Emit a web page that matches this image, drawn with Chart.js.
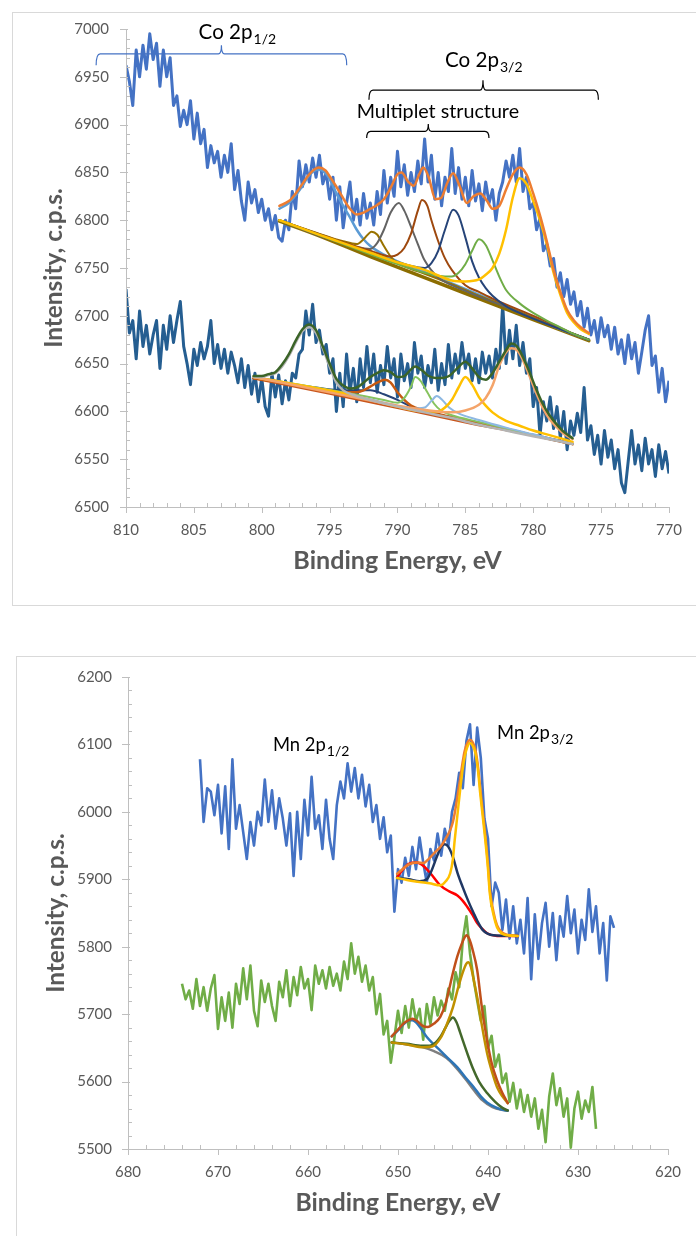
<!DOCTYPE html>
<html>
<head>
<meta charset="utf-8">
<script src="https://cdn.jsdelivr.net/npm/chart.js@4.4.0/dist/chart.umd.min.js"></script>
<style>
  body { margin: 0; background: #fff; width: 696px; height: 1236px; overflow: hidden; position: relative; }
  .panel { position: absolute; border: 1px solid #d9d9d9; box-sizing: border-box; }
  canvas { position: absolute; left: 0; }
</style>
</head>
<body>
<div class="panel" style="left:12px;top:12px;width:700px;height:594px"></div>
<div class="panel" style="left:16px;top:656px;width:700px;height:600px"></div>
<canvas id="co" width="696" height="620" style="top:0"></canvas>
<canvas id="mn" width="696" height="596" style="top:640px"></canvas>
<script>
// ---------- Co 2p : espectros medidos (passo de 0.25 eV a partir de 810 eV) ----------
const coStart = 810, coStep = 0.25;
const coSpectrumA = [
  6962, 6945, 6920, 6978,  6950, 6983, 6958, 6995,  6968, 6985, 6940, 6978,
  6950, 6970, 6920, 6930,  6898, 6915, 6900, 6925,  6885, 6912, 6880, 6895,
  6855, 6878, 6860, 6872,  6845, 6868, 6850, 6880,  6832, 6852, 6820, 6800,
  6840, 6818, 6832, 6808,  6822, 6800, 6812, 6790,  6805, 6782, 6778, 6800,
  6790, 6830, 6812, 6862,  6835, 6858, 6840, 6865,  6845, 6868, 6838, 6850,
  6822, 6845, 6800, 6835,  6792, 6818, 6840, 6800,  6822, 6795, 6828, 6802,
  6818, 6795, 6830, 6806,  6852, 6818, 6845, 6825,  6872, 6835, 6858, 6826,
  6850, 6830, 6862, 6838,  6885, 6840, 6868, 6822,  6850, 6815, 6845, 6830,
  6875, 6828, 6855, 6822,  6845, 6815, 6852, 6820,  6838, 6810, 6840, 6818,
  6832, 6800, 6828, 6840,  6862, 6845, 6868, 6840,  6875, 6830, 6845, 6812,
  6818, 6790, 6802, 6768,  6775, 6752, 6760, 6730,  6745, 6720, 6738, 6712,
  6725, 6700, 6715, 6688,  6708, 6680, 6695, 6672,  6698, 6678, 6690, 6665,
  6688, 6660, 6675, 6650,  6680, 6655, 6672, 6640,  6662, 6685, 6700, 6648,
  6658, 6620, 6645, 6610,  6632
];
const coSpectrumB = [
  6728, 6682, 6695, 6655,  6705, 6668, 6690, 6660,  6680, 6695, 6645, 6690,
  6665, 6700, 6672, 6695,  6715, 6668, 6650, 6628,  6665, 6648, 6672, 6655,
  6668, 6695, 6650, 6670,  6645, 6665, 6640, 6662,  6648, 6630, 6655, 6625,
  6648, 6618, 6640, 6610,  6635, 6605, 6595, 6640,  6615, 6638, 6608, 6632,
  6612, 6640, 6635, 6660,  6665, 6705, 6680, 6712,  6672, 6685, 6660, 6670,
  6640, 6655, 6600, 6640,  6605, 6660, 6620, 6645,  6610, 6655, 6625, 6668,
  6630, 6660, 6620, 6648,  6628, 6668, 6635, 6655,  6615, 6660, 6632, 6650,
  6625, 6672, 6640, 6658,  6625, 6648, 6630, 6665,  6622, 6650, 6628, 6670,
  6635, 6660, 6640, 6672,  6645, 6660, 6632, 6655,  6630, 6662, 6640, 6658,
  6635, 6665, 6645, 6712,  6650, 6685, 6655, 6690,  6648, 6672, 6640, 6655,
  6605, 6625, 6575, 6610,  6590, 6615, 6582, 6605,  6572, 6600, 6560, 6590,
  6575, 6598, 6578, 6625,  6570, 6585, 6555, 6575,  6545, 6580, 6552, 6570,
  6540, 6560, 6525, 6515,  6548, 6580, 6545, 6565,  6538, 6572, 6545, 6560,
  6532, 6565, 6540, 6558,  6535
];

// Ajuste da amostra A: [energia, intensidade]
const coA_bg     = [[798.7,6799],[796,6785],[792,6762],[788,6740],[784,6718],[780,6696],[775.9,6674]];
const coA_env    = [[798.7,6815],[798,6820],[797.5,6828],[797,6838],[796.5,6848],[795.8,6855],[795.3,6852],[795,6846],[794.5,6835],[794,6823],[793.5,6812],[793,6806],[792.5,6808],[792,6812],[791.5,6816],[791,6822],[790.5,6834],[790,6848],[789.7,6850],[789.2,6840],[788.8,6836],[788.4,6848],[788.1,6855],[787.7,6845],[787.2,6822],[786.8,6823],[786.3,6840],[785.9,6849],[785.4,6835],[784.9,6818],[784.4,6825],[783.9,6828],[783.4,6820],[783,6812],[782.5,6815],[782,6832],[781.5,6848],[781,6855],[780.5,6848],[780,6828],[779.5,6805],[779,6778],[778.5,6748],[778,6725],[777.5,6706],[777,6695],[776.5,6688],[775.9,6682]];
const coA_p12    = [[798.7,6812],[798,6818],[797.5,6826],[797,6836],[796.5,6847],[795.8,6853],[795.3,6849],[795,6843],[794.5,6828],[794,6815],[793.5,6803],[793,6790],[792.5,6780],[792,6773],[791,6764],[790,6757],[788,6746],[786,6734],[784,6722],[782,6710],[780,6698],[778,6686],[775.9,6675]];
const coA_olive  = [[798.7,6800],[796,6787],[794,6778],[793,6775],[792.5,6780],[791.9,6788],[791.5,6785],[791,6773],[790.5,6762],[790,6755],[789,6749],[788,6744],[786,6733],[784,6721],[782,6710],[780,6698],[778,6686],[775.9,6675]];
const coA_gray   = [[798.7,6800],[795,6780],[793,6772],[792,6770],[791.5,6776],[791,6790],[790.5,6808],[789.9,6818],[789.5,6810],[789,6793],[788.5,6775],[788,6758],[787,6740],[786,6732],[785,6726],[784,6720],[782,6709],[780,6697],[778,6686],[775.9,6675]];
const coA_brown  = [[798.7,6800],[794,6777],[792,6768],[790.5,6762],[790,6764],[789.5,6771],[789,6786],[788.5,6810],[788.2,6821],[787.8,6815],[787.5,6800],[787,6778],[786.5,6760],[786,6748],[785,6732],[784,6725],[783,6718],[781,6706],[779,6694],[777,6681],[775.9,6675]];
const coA_navy   = [[798.7,6800],[794,6776],[791,6761],[789,6752],[788,6750],[787.5,6755],[787,6768],[786.5,6790],[785.9,6811],[785.5,6805],[785,6782],[784.5,6757],[784,6740],[783.5,6729],[783,6721],[782,6710],[781,6703],[780,6697],[778,6686],[775.9,6675]];
const coA_green  = [[798.7,6800],[794,6775],[790,6754],[788,6745],[787,6742],[786,6741],[785.5,6745],[785,6754],[784.5,6768],[784,6780],[783.5,6774],[783,6758],[782.5,6741],[782,6727],[781,6713],[780,6703],[779,6695],[778,6688],[777,6681],[775.9,6675]];
const coA_yellow = [[798.7,6800],[796,6786],[794,6776],[792,6766],[790,6756],[788,6748],[786,6737],[785,6736],[784,6738],[783.5,6743],[783,6750],[782.5,6765],[782,6790],[781.5,6824],[781,6844],[780.5,6838],[780,6820],[779.5,6800],[779,6775],[778.5,6745],[778,6722],[777.5,6703],[777,6693],[776.5,6686],[775.9,6681]];

// Ajuste da amostra B
const coB_bg     = [[800.6,6635],[795,6619],[790,6604],[785,6589],[780,6575],[777.1,6566]];
const coB_env    = [[800.6,6637],[800,6637],[799.5,6639],[799,6641],[798.5,6649],[798,6660],[797.5,6674],[797,6686],[796.5,6691],[796,6685],[795.5,6668],[795,6650],[794.5,6634],[794,6627],[793.5,6624],[793,6625],[792.5,6630],[792,6636],[791.5,6640],[791,6643],[790.5,6641],[790,6636],[789.5,6637],[789,6644],[788.7,6647],[788.2,6643],[787.7,6637],[787.2,6635],[786.7,6635],[786.2,6637],[785.6,6645],[785,6652],[784.5,6645],[784,6636],[783.5,6633],[783,6640],[782.5,6652],[782,6664],[781.6,6671],[781.2,6668],[780.8,6658],[780.3,6642],[779.8,6624],[779.3,6608],[778.8,6596],[778.3,6587],[777.7,6578],[777.1,6572]];
const coB_p12    = [[800.6,6636],[800,6636],[799.5,6638],[799,6640],[798.5,6647],[798,6658],[797.5,6672],[797,6684],[796.5,6688],[796,6682],[795.5,6666],[795,6647],[794.5,6630],[794,6622],[793,6616],[792,6612],[790,6605],[788,6599],[786,6593],[784,6586],[782,6580],[780,6574],[777.1,6566]];
const coB_navy   = [[800.6,6636],[796,6625],[794,6622],[793,6622],[792,6622],[791,6618],[790,6612],[789,6605],[788,6600],[786,6594],[784,6588],[782,6581],[780,6575],[777.1,6566]];
const coB_orange = [[800.6,6635],[796,6624],[794,6620],[793,6620],[792.5,6622],[792,6626],[791.5,6630],[790.9,6633],[790.5,6630],[790,6620],[789.5,6612],[789,6606],[788,6601],[786,6594],[784,6588],[782,6582],[780,6575],[777.1,6566]];
const coB_green  = [[800.6,6636],[794,6620],[791,6612],[790,6609],[789.5,6614],[789,6626],[788.7,6636],[788.3,6632],[787.8,6620],[787.3,6608],[786.8,6601],[786,6596],[784,6589],[782,6582],[780,6575],[777.1,6566]];
const coB_lblue  = [[800.6,6636],[794,6619],[790,6606],[789,6603],[788,6604],[787.5,6611],[787.1,6616],[786.7,6612],[786.2,6604],[785.5,6598],[784,6591],[782,6583],[780,6576],[777.1,6566]];
const coB_yellow = [[800.6,6636],[794,6619],[790,6605],[788,6600],[787,6600],[786.5,6604],[786,6612],[785.5,6625],[785,6636],[784.5,6628],[784,6615],[783.5,6606],[783,6599],[782,6590],[781,6585],[780,6580],[779,6576],[778,6572],[777.1,6568]];
const coB_salmon = [[800.6,6636],[794,6617],[790,6606],[787,6600],[786,6599],[785,6601],[784,6607],[783.5,6614],[783,6627],[782.5,6648],[782,6662],[781.6,6666],[781.2,6664],[780.8,6655],[780.3,6638],[779.8,6620],[779.3,6604],[778.8,6592],[778.3,6584],[777.7,6576],[777.1,6571]];

// ---------- Mn 2p : espectros medidos (passo de 0.4 eV) ----------
const mnBlueStart = 672, mnGreenStart = 674, mnStep = 0.4;
const mnSpectrumBlue = [
  6078, 5985, 6035, 6030, 5995,  6040, 5968, 6038, 5945, 6078,
  5975, 6010, 5970, 5930, 5985,  5950, 6000, 5980, 6048, 5985,
  6032, 5975, 6020, 5990, 5950,  5998, 5905, 6000, 5930, 6018,
  5965, 6052, 5975, 5995, 5945,  6018, 5960, 5930, 6010, 6045,
  6020, 6072, 6030, 6065, 6020,  6055, 6008, 6040, 5985, 6010,
  5960, 5992, 5940, 5965, 5852,  5915, 5895, 5932, 5905, 5948,
  5915, 5962, 5925, 5895, 5945,  5928, 5968, 5935, 5975, 5950,
  6000, 6020, 6058, 6035, 6105,  6130, 6040, 6125, 6080, 5990,
  5960, 5860, 5895, 5880, 5825,  5870, 5812, 5860, 5805, 5840,
  5790, 5872, 5752, 5848, 5782,  5835, 5865, 5800, 5850, 5780,
  5845, 5815, 5875, 5820, 5855,  5790, 5840, 5810, 5885, 5822,
  5860, 5790, 5835, 5750, 5845,  5828
];
const mnSpectrumGreen = [
  5745, 5722, 5735, 5708, 5752,  5712, 5740, 5705, 5738, 5758,
  5678, 5725, 5690, 5732, 5680,  5745, 5715, 5768, 5722, 5772,
  5705, 5682, 5750, 5718, 5745,  5712, 5690, 5748, 5725, 5765,
  5712, 5755, 5728, 5770, 5738,  5752, 5706, 5772, 5745, 5765,
  5738, 5770, 5742, 5760, 5735,  5778, 5752, 5805, 5760, 5785,
  5748, 5772, 5735, 5755, 5700,  5730, 5670, 5690, 5628, 5665,
  5705, 5672, 5712, 5680, 5722,  5690, 5708, 5662, 5715, 5685,
  5725, 5698, 5720, 5705, 5738,  5722, 5762, 5740, 5810, 5845,
  5790, 5752, 5720, 5690, 5712,  5650, 5668, 5622, 5640, 5598,
  5612, 5570, 5598, 5560, 5588,  5555, 5580, 5548, 5575, 5530,
  5558, 5510, 5578, 5612, 5565,  5590, 5548, 5575, 5502, 5560,
  5585, 5545, 5572, 5555, 5592,  5530
];

// Ajuste Mn (azul)
const mnB_yellow = [[650.1,5902],[649,5899],[647.6,5896],[646.5,5894],[645.3,5891],[644.7,5897],[644.2,5909],[643.9,5930],[643.7,5958],[643.4,5995],[643.1,6032],[642.8,6065],[642.6,6081],[642.3,6096],[642,6102],[641.7,6098],[641.4,6087],[641.1,6060],[640.9,6032],[640.6,5995],[640.3,5958],[640,5915],[639.8,5879],[639.4,5848],[639,5829],[638.5,5820],[637.9,5817],[636.7,5816]];
const mnB_env    = [[650.1,5908],[649.5,5915],[648.8,5922],[647.9,5925],[647.2,5924],[646.6,5930],[645.9,5940],[645.3,5948],[644.7,5960],[644.2,5973],[643.9,5985],[643.7,5998],[643.4,6022],[643.1,6048],[642.8,6075],[642.6,6090],[642.3,6102],[642,6107],[641.7,6103],[641.4,6092],[641.1,6066],[640.9,6040],[640.6,6002],[640.3,5965],[640,5922],[639.8,5885],[639.4,5852],[639,5832],[638.5,5822],[637.9,5818],[636.7,5816]];
const mnB_red    = [[650.1,5903],[649.5,5914],[648.8,5923],[647.9,5925],[647.2,5920],[646.4,5909],[645.3,5891],[644.3,5882],[643.4,5876],[642.8,5868],[642.3,5859],[641.7,5847],[641.2,5835],[640.6,5826],[640.1,5820],[639,5816],[636.7,5816]];
const mnB_navy   = [[650.1,5902],[648.8,5900],[647.6,5897],[646.8,5900],[646.3,5912],[645.7,5933],[645.2,5948],[644.8,5952],[644.4,5948],[643.9,5933],[643.4,5910],[642.8,5888],[642.2,5868],[641.6,5850],[641.1,5836],[640.6,5825],[640,5819],[639.4,5817],[636.7,5816]];

// Ajuste Mn (verde)
const mnG_bg     = [[650.7,5658],[649,5655],[647.2,5651],[646,5645],[644.6,5635],[643.5,5620],[642.4,5602],[641.5,5586],[640.6,5572],[639.5,5562],[638.5,5558],[637.8,5557]];
const mnG_blue   = [[650.7,5667],[650,5676],[649.3,5686],[648.7,5691],[648.4,5691],[648,5688],[647.4,5678],[646.8,5666],[646,5655],[645.3,5646],[644.4,5634],[643.4,5621],[642.5,5606],[641.6,5592],[640.8,5578],[640.1,5569],[639.2,5562],[638.4,5558],[637.8,5557]];
const mnG_dgreen = [[650.7,5658],[649,5656],[647.5,5653],[646.5,5653],[645.8,5658],[645.3,5666],[644.8,5678],[644.3,5690],[643.9,5695],[643.5,5688],[643.1,5673],[642.8,5661],[642.2,5638],[641.6,5617],[641,5600],[640.1,5583],[639.2,5570],[638.4,5561],[637.8,5557]];
const mnG_gold   = [[650.7,5658],[649,5655],[647.2,5651],[646.2,5652],[645.3,5664],[644.6,5684],[643.9,5710],[643.3,5740],[642.8,5762],[642.4,5775],[642.2,5777],[641.9,5770],[641.5,5745],[641.2,5725],[640.7,5685],[640.1,5642],[639.5,5612],[639,5592],[638.4,5578],[637.8,5568]];
const mnG_env    = [[650.7,5667],[650,5677],[649.3,5687],[648.7,5692],[648.4,5693],[647.9,5690],[647.3,5683],[646.7,5681],[646,5686],[645.3,5696],[644.7,5716],[644.3,5738],[643.9,5761],[643.4,5786],[642.9,5805],[642.6,5814],[642.4,5817],[642.1,5812],[641.7,5795],[641.2,5765],[640.7,5712],[640.1,5661],[639.6,5628],[639,5602],[638.4,5583],[637.8,5568]];

// ---------- funções auxiliares ----------
const FONT = 'Lato';
const GRAY_TEXT = '#595959';
const AXIS = '#BFBFBF';

function spectrum(values, start, step, color, width) {
  return {
    data: values.map((v, i) => ({ x: start - i * step, y: v })),
    borderColor: color, borderWidth: width, pointRadius: 0, tension: 0,
    borderJoinStyle: 'round', order: 20
  };
}

function curve(points, color, width, order) {
  return {
    data: points.map(p => ({ x: p[0], y: p[1] })),
    borderColor: color, borderWidth: width, pointRadius: 0,
    cubicInterpolationMode: 'monotone', borderCapStyle: 'round', order: order
  };
}

// tamanho de fonte para um texto ocupar uma largura dada
function fitSize(ctx, text, weight, width) {
  ctx.font = weight + ' 20px ' + FONT;
  return 20 * width / ctx.measureText(text).width;
}

// eixos, marcas menores, títulos e anotações
const decorations = {
  id: 'decorations',
  afterDraw(chart, args, o) {
    const { ctx, chartArea: a, scales: { x, y } } = chart;
    ctx.save();
    // linhas dos eixos
    ctx.strokeStyle = AXIS; ctx.lineWidth = 1;
    ctx.beginPath();
    ctx.moveTo(a.left + 0.5, a.top); ctx.lineTo(a.left + 0.5, a.bottom + 0.5);
    ctx.lineTo(a.right, a.bottom + 0.5);
    // marcas eixo x
    const nx = Math.round((x.max - x.min) / o.xMinor);
    for (let i = 0; i <= nx; i++) {
      const v = x.min + i * o.xMinor;
      const px = Math.round(x.getPixelForValue(v)) + 0.5;
      const major = i % Math.round(o.xMajor / o.xMinor) === 0;
      if (major) { ctx.moveTo(px, a.bottom); ctx.lineTo(px, a.bottom + 6); }
      else { ctx.moveTo(px, a.bottom); ctx.lineTo(px, a.bottom - 4); }
    }
    // marcas eixo y
    const ny = Math.round((y.max - y.min) / o.yMinor);
    for (let i = 0; i <= ny; i++) {
      const v = y.min + i * o.yMinor;
      const py = Math.round(y.getPixelForValue(v)) + 0.5;
      const major = i % Math.round(o.yMajor / o.yMinor) === 0;
      if (major) { ctx.moveTo(a.left - 6, py); ctx.lineTo(a.left + 2, py); }
      else { ctx.moveTo(a.left, py); ctx.lineTo(a.left + 4, py); }
    }
    ctx.stroke();

    // títulos dos eixos
    ctx.fillStyle = GRAY_TEXT;
    ctx.textAlign = 'center'; ctx.textBaseline = 'middle';
    const xt = 'Binding Energy, eV', yt = 'Intensity, c.p.s.';
    ctx.font = 'bold ' + fitSize(ctx, xt, 'bold', o.xTitleW).toFixed(1) + 'px ' + FONT;
    ctx.fillText(xt, (a.left + a.right) / 2, o.xTitleY);
    ctx.save();
    ctx.font = 'bold ' + fitSize(ctx, yt, 'bold', o.yTitleW).toFixed(1) + 'px ' + FONT;
    ctx.translate(o.yTitleX, (a.top + a.bottom) / 2);
    ctx.rotate(-Math.PI / 2);
    ctx.fillText(yt, 0, 0);
    ctx.restore();

    // chaves
    (o.braces || []).forEach(b => {
      const x1 = x.getPixelForValue(b.e1), x2 = x.getPixelForValue(b.e2), xc = x.getPixelForValue(b.ec);
      const yl = y.getPixelForValue(b.v), ye = y.getPixelForValue(b.vEnd), yt2 = y.getPixelForValue(b.vTip);
      ctx.strokeStyle = b.color; ctx.lineWidth = 1.2;
      ctx.beginPath();
      ctx.moveTo(x1, ye);
      ctx.quadraticCurveTo(x1, yl, x1 + 4, yl);
      ctx.lineTo(xc - 3, yl);
      ctx.quadraticCurveTo(xc, yl, xc, yt2);
      ctx.quadraticCurveTo(xc, yl, xc + 3, yl);
      ctx.lineTo(x2 - 4, yl);
      ctx.quadraticCurveTo(x2, yl, x2, ye);
      ctx.stroke();
    });

    // rótulos com subscrito
    ctx.fillStyle = '#000'; ctx.textAlign = 'left'; ctx.textBaseline = 'alphabetic';
    (o.labels || []).forEach(l => {
      const px = x.getPixelForValue(l.e), py = y.getPixelForValue(l.v);
      ctx.font = fitSize(ctx, l.main, '', l.w).toFixed(1) + 'px ' + FONT;
      ctx.fillText(l.main, px, py);
      if (l.sub) {
        const w = ctx.measureText(l.main).width;
        ctx.font = '14px ' + FONT;
        ctx.fillText(l.sub, px + w + 1, py + 5);
      }
    });
    ctx.restore();
  }
};

function axisOptions(min, max, step, pad, fitFn) {
  return {
    type: 'linear', min: min, max: max,
    ticks: { stepSize: step, color: GRAY_TEXT, font: { family: FONT, size: 15 }, padding: pad, maxRotation: 0, callback: v => String(v) },
    grid: { display: false, drawTicks: false },
    border: { display: false },
    afterFit: fitFn
  };
}

// ---------- gráfico Co 2p ----------
new Chart(document.getElementById('co'), {
  type: 'line',
  data: {
    datasets: [
      curve(coA_env, '#ED7D31', 2.5, 1),
      curve(coA_yellow, '#FFC000', 2.5, 2),
      curve(coA_green, '#70AD47', 2, 3),
      curve(coA_navy, '#264478', 2, 3),
      curve(coA_brown, '#9E480E', 2, 3),
      curve(coA_gray, '#636363', 2, 3),
      curve(coA_olive, '#997300', 2, 3),
      curve(coA_p12, '#5B9BD5', 2.5, 4),
      curve(coA_bg, '#8C6D00', 3.5, 5),
      curve(coB_env, '#3B6428', 2.5, 1),
      curve(coB_p12, '#B4B4B4', 2.5, 2),
      curve(coB_salmon, '#F4A46A', 2.5, 3),
      curve(coB_yellow, '#FFC000', 2.5, 3),
      curve(coB_lblue, '#8DB8E2', 2, 3),
      curve(coB_green, '#86C35E', 2, 3),
      curve(coB_orange, '#C55A11', 2.5, 3),
      curve(coB_navy, '#264478', 2, 4),
      curve(coB_bg, '#C8551C', 3, 5),
      spectrum(coSpectrumA, coStart, coStep, '#4472C4', 3),
      spectrum(coSpectrumB, coStart, coStep, '#255E91', 3)
    ]
  },
  options: {
    responsive: false, animation: false, devicePixelRatio: 1,
    layout: { padding: { left: 0, right: 24, top: 29, bottom: 0 } },
    plugins: {
      legend: { display: false }, tooltip: { enabled: false },
      decorations: {
        xMinor: 1, xMajor: 5, yMinor: 10, yMajor: 50,
        xTitleY: 561, xTitleW: 208, yTitleX: 54, yTitleW: 160,
        braces: [
          { e1: 812.2, e2: 793.74, ec: 802.97, v: 6974, vEnd: 6962, vTip: 6983, color: '#4472C4' },
          { e1: 792.1, e2: 775.2, ec: 783.7, v: 6936, vEnd: 6926, vTip: 6946.5, color: '#000' },
          { e1: 792.27, e2: 783.26, ec: 787.73, v: 6893, vEnd: 6886, vTip: 6900.5, color: '#000' }
        ],
        labels: [
          { e: 804.65, v: 6989.5, main: 'Co 2p', sub: '1/2', w: 54 },
          { e: 786.5, v: 6960, main: 'Co 2p', sub: '3/2', w: 54 },
          { e: 793, v: 6907, main: 'Multiplet structure', sub: '', w: 162 }
        ]
      }
    },
    scales: {
      x: Object.assign(axisOptions(770, 810, 5, 14, s => { s.height = 113; }), { reverse: true }),
      y: axisOptions(6500, 7000, 50, 17, s => { s.width = 126; })
    }
  },
  plugins: [decorations]
});

// ---------- gráfico Mn 2p ----------
new Chart(document.getElementById('mn'), {
  type: 'line',
  data: {
    datasets: [
      curve(mnB_yellow, '#FFC000', 2.5, 1),
      curve(mnB_env, '#ED7D31', 2.5, 2),
      curve(mnB_navy, '#203864', 2.5, 3),
      curve(mnB_red, '#FF0000', 2.5, 3),
      curve(mnG_env, '#C0501A', 2.5, 1),
      curve(mnG_gold, '#BF9000', 2.5, 2),
      curve(mnG_dgreen, '#43682B', 2.5, 3),
      curve(mnG_blue, '#2E75B6', 2.5, 3),
      curve(mnG_bg, '#7F7F7F', 2.5, 4),
      spectrum(mnSpectrumBlue, mnBlueStart, mnStep, '#4472C4', 2.6),
      spectrum(mnSpectrumGreen, mnGreenStart, mnStep, '#70AD47', 2.6)
    ]
  },
  options: {
    responsive: false, animation: false, devicePixelRatio: 1,
    layout: { padding: { left: 0, right: 28, top: 37, bottom: 0 } },
    plugins: {
      legend: { display: false }, tooltip: { enabled: false },
      decorations: {
        xMinor: 2, xMajor: 10, yMinor: 20, yMajor: 100,
        xTitleY: 563, xTitleW: 205, yTitleX: 56, yTitleW: 160,
        labels: [
          { e: 663.9, v: 6090, main: 'Mn 2p', sub: '1/2', w: 53 },
          { e: 639, v: 6108, main: 'Mn 2p', sub: '3/2', w: 53 }
        ]
      }
    },
    scales: {
      x: Object.assign(axisOptions(620, 680, 10, 14, s => { s.height = 87; }), { reverse: true }),
      y: axisOptions(5500, 6200, 100, 16, s => { s.width = 128; })
    }
  },
  plugins: [decorations]
});
</script>
</body>
</html>
